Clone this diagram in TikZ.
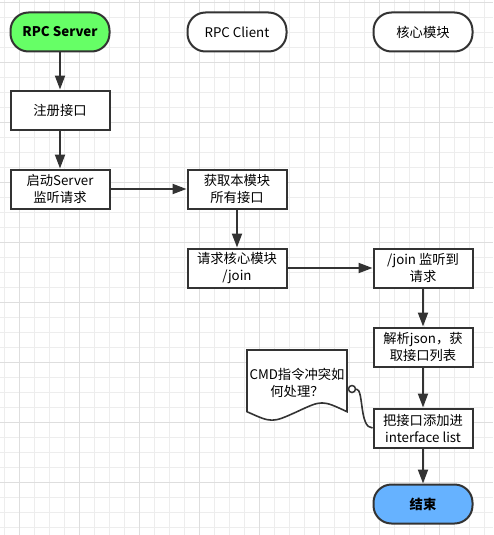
\documentclass[tikz,border=0pt]{standalone}
\usepackage{fontspec}
\setmainfont{Noto Sans CJK SC}
\usetikzlibrary{arrows.meta}
\definecolor{edge}{HTML}{333333}
\definecolor{startgreen}{HTML}{66FF66}
\definecolor{endblue}{HTML}{66B2FF}
\definecolor{gridfine}{HTML}{EDEDED}
\definecolor{gridbold}{HTML}{DEDEDE}
\begin{document}
\begin{tikzpicture}[x=1pt,y=-1pt,
  box/.style={draw=edge, line width=2pt, minimum width=99pt, minimum height=39pt,
    align=center, inner sep=0pt, fill=white, text=black,
    font=\fontsize{13.3}{17}\selectfont},
  term/.style={box, rounded corners=18pt},
  flow/.style={draw=edge, line width=2pt, -{Triangle[length=14pt,width=10pt]}},
  gridline/.style={draw=gridfine, line width=0.8pt},
  gridmajor/.style={draw=gridbold, line width=1pt},
]
% canvas and background grid
\useasboundingbox (0,0) rectangle (493,535);
\fill[white] (0,0) rectangle (493,535);
\foreach \k in {0,...,32} {
  \draw[gridline] ({4.3+15*\k},0) -- ({4.3+15*\k},535);
}
\foreach \k in {0,...,35} {
  \draw[gridline] (0,{2.7+15*\k}) -- (493,{2.7+15*\k});
}
\foreach \k in {0,...,8} {
  \draw[gridmajor] ({19.3+60*\k},0) -- ({19.3+60*\k},535);
  \draw[gridmajor] (0,{2.7+60*\k}) -- (493,{2.7+60*\k});
}

% lane headers
\node[term, fill=startgreen, font=\fontsize{13.3}{17}\selectfont\bfseries] (srv) at (60,32) {RPC Server};
\node[term] (cli) at (237,32) {RPC Client};
\node[term] (core) at (423,32) {核心模块};

% process steps
\node[box] (reg) at (60,110) {注册接口};
\node[box] (boot) at (60,189) {启动Server\\监听请求};
\node[box] (fetch) at (237,189) {获取本模块\\所有接口};
\node[box] (req) at (237,268) {请求核心模块\\/join};
\node[box] (join) at (423,268) {/join 监听到\\请求};
\node[box] (parse) at (423,347) {解析json，获\\取接口列表};
\node[box] (add) at (423,428) {把接口添加进\\interface list};
\node[term, fill=endblue, font=\fontsize{13.3}{17}\selectfont\bfseries] (done) at (423,504) {结束};

% flow connectors
\draw[flow] (srv) -- (reg);
\draw[flow] (reg) -- (boot);
\draw[flow] (boot) -- (fetch);
\draw[flow] (fetch) -- (req);
\draw[flow] (req) -- (join);
\draw[flow] (join) -- (parse);
\draw[flow] (parse) -- (add);
\draw[flow] (add) -- (done);

% annotation with wavy lower edge
\draw[draw=edge, line width=1.6pt, fill=white]
  (247,350) -- (347,350) -- (347,411.7)
  .. controls (322,400) .. (297,411.7)
  .. controls (272,423) .. (247,411.7) -- cycle;
\node[align=center, inner sep=0pt, text=black, font=\fontsize{13.3}{17}\selectfont]
  (note) at (297,383) {CMD指令冲突如\\何处理？};
\node[circle, draw=edge, line width=1.5pt, fill=white, minimum size=7pt, inner sep=0pt]
  (pin) at (352,389) {};
\draw[draw=edge, line width=1.6pt] (pin.east) .. controls (364,389) and (359,428) .. (add.west);
\end{tikzpicture}
\end{document}
